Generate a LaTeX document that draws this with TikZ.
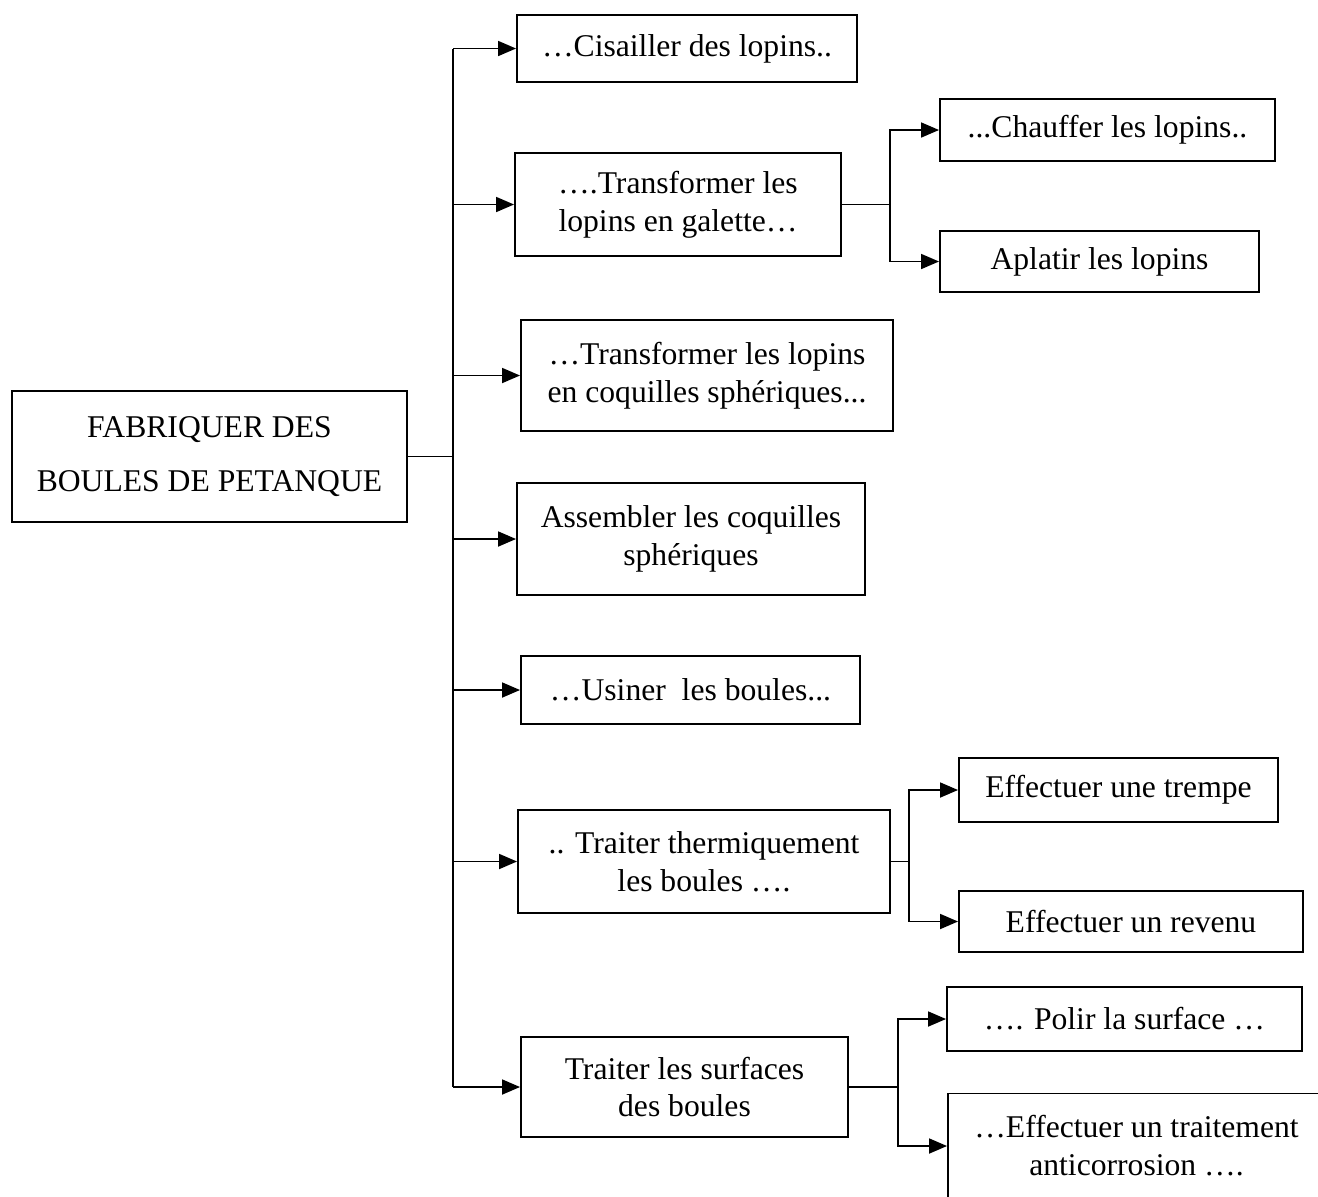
\documentclass[tikz,border=0pt]{standalone}
\usepackage{fontspec}
\setmainfont{Liberation Serif}
\usetikzlibrary{arrows.meta}
\tikzset{
	boite/.style={draw, line width=1.1pt, align=center, inner sep=0pt, font=\fontsize{18}{21.6}\selectfont},
	fil/.style={line width=1pt},
	fleche/.style={line width=1pt, -{Triangle[length=0.36cm, width=0.3cm]}}
}

\begin{document}
\begin{tikzpicture}
		%%%%% START %%%%%
		
		\useasboundingbox (0, 0) rectangle (26.36, -23.92);
		\clip (0, 0) rectangle (26.36, -23.92);
		
		\node[boite, minimum width=7.9cm, minimum height=2.62cm, font=\fontsize{18}{31}\selectfont] (main) at (4.19, -9.13) {FABRIQUER DES\\BOULES DE PETANQUE};
		
		\node[boite, minimum width=6.80cm, minimum height=1.34cm] (b1) at (13.74, -0.97) {…Cisailler des lopins..};
		\node[boite, minimum width=6.52cm, minimum height=2.06cm] (b2) at (13.56, -4.09) {….Transformer les\\lopins en galette…};
		\node[boite, minimum width=7.44cm, minimum height=2.22cm] (b3) at (14.14, -7.51) {…Transformer les lopins\\en coquilles sphériques...};
		\node[boite, minimum width=6.96cm, minimum height=2.24cm] (b4) at (13.82, -10.78) {Assembler les coquilles\\sphériques};
		\node[boite, minimum width=6.78cm, minimum height=1.36cm] (b5) at (13.81, -13.80) {…Usiner\ \ les boules...};
		\node[boite, minimum width=7.44cm, minimum height=2.06cm] (b6) at (14.08, -17.23) {.. Traiter thermiquement\\les boules ….};
		\node[boite, minimum width=6.54cm, minimum height=2.00cm] (b7) at (13.69, -21.74) {Traiter les surfaces\\des boules};
		
		\node[boite, minimum width=6.70cm, minimum height=1.24cm] (c1) at (22.15, -2.60) {...Chauffer les lopins..};
		\node[boite, minimum width=6.38cm, minimum height=1.22cm] (c2) at (21.99, -5.23) {Aplatir les lopins};
		
		\node[boite, minimum width=6.38cm, minimum height=1.28cm] (d1) at (22.37, -15.80) {Effectuer une trempe};
		\node[boite, minimum width=6.88cm, minimum height=1.22cm] (d2) at (22.62, -18.43) {Effectuer un revenu};
		
		\node[boite, minimum width=7.10cm, minimum height=1.28cm] (e1) at (22.49, -20.38) {…. Polir la surface …};
		\node[boite, minimum width=7.54cm, minimum height=2.10cm] (e2) at (22.73, -22.92) {…Effectuer un traitement\\anticorrosion ….};
		
		% tronc commun
		\coordinate (t) at (9.06, 0);
		\draw[fil] (main.east) -- (main.east -| t);
		\draw[fil] (t |- b1.west) -- (t |- b7.west);
		\foreach \b in {b1, b2, b3, b4, b5, b6, b7}
			\draw[fleche] (t |- \b.west) -- (\b.west);
		
		% sous-fonctions
		\draw[fil] (b2.east) -- ++(0.96, 0) coordinate (s2);
		\draw[fleche] (s2) |- (c1.west);
		\draw[fleche] (s2) |- (c2.west);
		
		\draw[fil] (b6.east) -- ++(0.36, 0) coordinate (s6);
		\draw[fleche] (s6) |- (d1.west);
		\draw[fleche] (s6) |- (d2.west);
		
		\draw[fil] (b7.east) -- ++(0.98, 0) coordinate (s7);
		\draw[fleche] (s7) |- (e1.west);
		\draw[fleche] (s7) |- (e2.west);
		
		%%%%% END %%%%%
	\end{tikzpicture}
\end{document}
